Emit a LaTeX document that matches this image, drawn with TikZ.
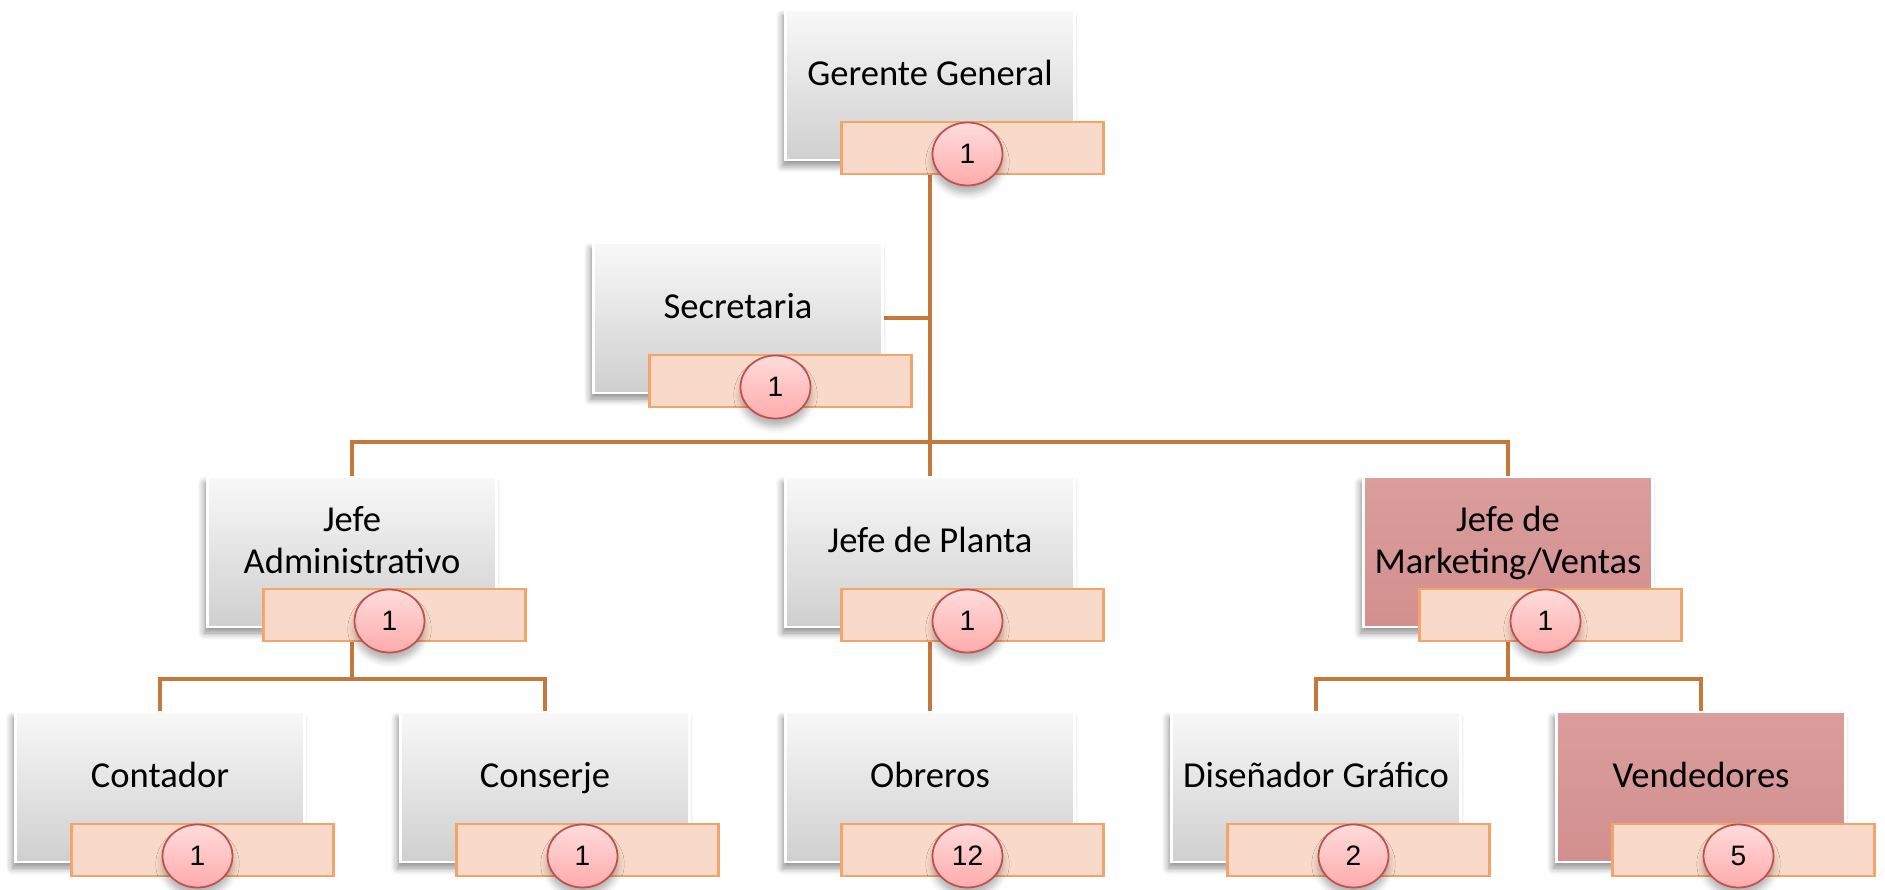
\documentclass[tikz,border=0pt]{standalone}
\usepackage{fontspec}
\setmainfont{Carlito}
\newfontfamily\numfont{Liberation Sans}
\usepackage{tikz}
\usetikzlibrary{shapes.geometric}
\usetikzlibrary{shadows.blur}
\usetikzlibrary{backgrounds}

\definecolor{linea}{HTML}{C5783C}
\definecolor{cajaarriba}{HTML}{F8F8F8}
\definecolor{cajaabajo}{HTML}{CFCFCF}
\definecolor{rosaarriba}{HTML}{DA9E9D}
\definecolor{rosaabajo}{HTML}{D28F8E}
\definecolor{barrafondo}{HTML}{F9DACA}
\definecolor{barraborde}{HTML}{F2A46A}
\definecolor{numarriba}{HTML}{FFDCDC}
\definecolor{numabajo}{HTML}{FFABAB}
\definecolor{numborde}{HTML}{C0504D}

% caja, texto, barra y circulo de un cargo
\newcommand{\cargo}[5]{%
  \node[#3]     (#1)   at (#2)                                     {};
  \node[texto]  (#1-t) at ([yshift=1.2mm]#1.center)                {#4};
  \node[barra]  (#1-b) at ([xshift=4.25mm,yshift=-6.3mm]#1.center) {};
  \node[numero] (#1-n) at ([xshift=-0.5mm,yshift=-0.6mm]#1-b.center) {#5};
}

\begin{document}
\begin{tikzpicture}[
    caja/.style={rectangle, draw=white, line width=0.6pt, top color=cajaarriba, bottom color=cajaabajo,
      minimum width=2.89cm, minimum height=1.50cm, inner sep=0pt,
      blur shadow={shadow xshift=-0.3mm, shadow yshift=-0.6mm, shadow blur steps=6, shadow opacity=45}},
    cajarosa/.style={caja, top color=rosaarriba, bottom color=rosaabajo},
    texto/.style={align=center, text depth=0pt, font=\fontsize{10.4}{12}\selectfont},
    barra/.style={rectangle, draw=barraborde, line width=0.6pt, fill=barrafondo,
      minimum width=2.62cm, minimum height=0.52cm, inner sep=0pt},
    numero/.style={ellipse, draw=numborde, line width=0.5pt, top color=numarriba, bottom color=numabajo,
      minimum width=0.70cm, minimum height=0.63cm, inner sep=0pt, font=\numfont\fontsize{8}{9.6}\selectfont,
      blur shadow={shadow xshift=0mm, shadow yshift=-0.8mm, shadow blur steps=4, shadow opacity=30}},
    conector/.style={draw=linea, line width=1.3pt}]

    \useasboundingbox (0, 0) rectangle (18.85, -8.90);

    \cargo{gg}{9.30, -0.85}{caja}{Gerente General}{1}
    \cargo{sec}{7.38, -3.18}{caja}{Secretaria}{1}
    \cargo{ja}{3.52, -5.52}{caja}{Jefe\\Administrativo}{1}
    \cargo{jp}{9.30, -5.52}{caja}{Jefe de Planta}{1}
    \cargo{mk}{15.08, -5.52}{cajarosa}{Jefe de\\Marketing/Ventas}{1}
    \cargo{co}{1.60, -7.87}{caja}{Contador}{1}
    \cargo{cs}{5.45, -7.87}{caja}{Conserje}{1}
    \cargo{ob}{9.30, -7.87}{caja}{Obreros}{12}
    \cargo{dg}{13.16, -7.87}{caja}{Diseñador Gráfico}{2}
    \cargo{ve}{17.01, -7.87}{cajarosa}{Vendedores}{5}

    \begin{scope}[on background layer]
      \coordinate (rama)   at (9.30, -4.42);
      \coordinate (rama-a) at (3.52, -6.79);
      \coordinate (rama-m) at (15.08, -6.79);

      \draw[conector] (gg) -- (jp);
      \draw[conector] (sec) -- (sec -| gg);
      \draw[conector] (ja) |- (rama) -| (mk);
      \draw[conector] (ja) -- (rama-a);
      \draw[conector] (co) |- (rama-a) -| (cs);
      \draw[conector] (jp) -- (ob);
      \draw[conector] (mk) -- (rama-m);
      \draw[conector] (dg) |- (rama-m) -| (ve);
    \end{scope}
  \end{tikzpicture}
\end{document}
